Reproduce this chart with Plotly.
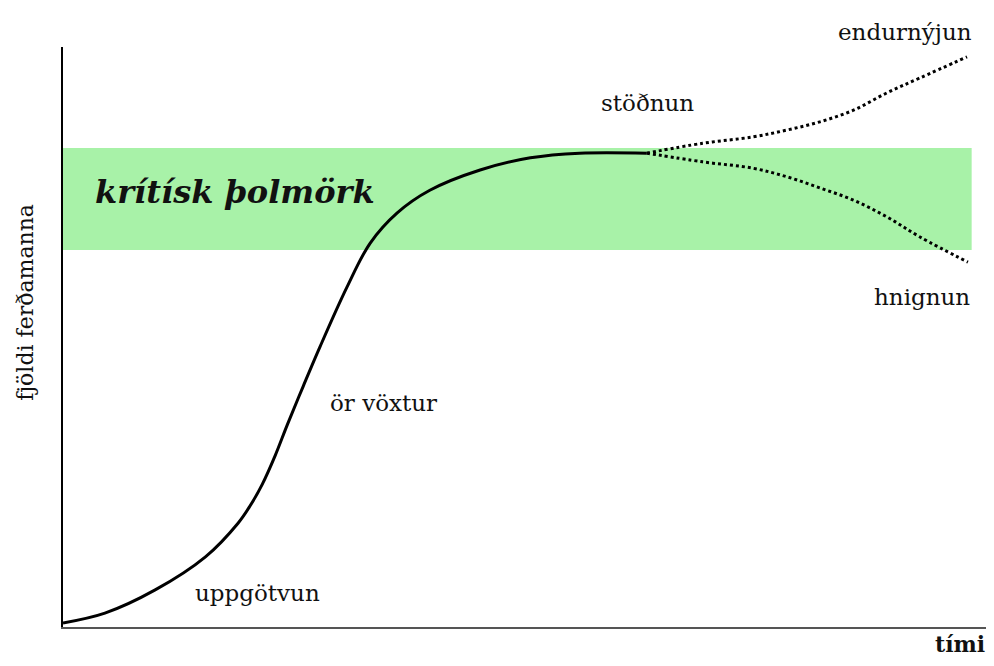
import plotly.graph_objects as go

# main life-cycle curve (time vs number of tourists)
curve_x = [0, 4.5, 9.9, 15.3, 18.8, 20.1, 21.4, 22.8, 24.1, 25.8, 27.6, 30.5, 33.0, 35.9, 39.4, 44.8, 50.2, 55.5, 62.7]
curve_y = [0.7, 2.4, 6.4, 12.1, 17.9, 20.9, 24.6, 29.6, 34.9, 41.5, 48.3, 58.6, 66.2, 71.4, 75.3, 78.8, 80.9, 81.7, 81.7]

# renewal branch (upper dotted)
renew_x = [62.7, 68.7, 74.1, 77.8, 81.3, 84.9, 88.5, 92.1, 97.1]
renew_y = [81.7, 83.4, 84.5, 85.7, 87.1, 89.1, 92.1, 94.7, 98.3]

# decline branch (lower dotted)
decline_x = [62.7, 68.7, 74.1, 77.8, 81.3, 84.9, 88.5, 92.1, 97.2]
decline_y = [81.7, 80.2, 79.1, 77.6, 75.7, 73.6, 70.7, 67.2, 62.9]

# critical capacity band
band_x = [0, 97.6]
band_y = [65.0, 82.6]

# stage labels (inside the plot, data coordinates)
stage_labels = ["uppgötvun", "ör vöxtur", "stöðnun", "hnignun"]
stage_x = [20.9, 34.4, 62.8, 92.3]
stage_y = [5.9, 38.6, 90.3, 56.9]

renew_label = "endurnýjun"
band_label = "krítísk þolmörk"
x_title = "tími"
y_title = "fjöldi ferðamanna"

fig = go.Figure()

fig.add_shape(type="rect", x0=band_x[0], x1=band_x[1], y0=band_y[0], y1=band_y[1],
              fillcolor="#a8f2a8", line=dict(width=0), layer="below")

fig.add_trace(go.Scatter(x=curve_x, y=curve_y, mode="lines",
                         line=dict(color="black", width=3, shape="spline"),
                         hoverinfo="skip", showlegend=False))
fig.add_trace(go.Scatter(x=renew_x, y=renew_y, mode="lines",
                         line=dict(color="black", width=3, dash="dot", shape="spline"),
                         hoverinfo="skip", showlegend=False))
fig.add_trace(go.Scatter(x=decline_x, y=decline_y, mode="lines",
                         line=dict(color="black", width=3, dash="dot", shape="spline"),
                         hoverinfo="skip", showlegend=False))

serif = "DejaVu Serif"
for t, x, y in zip(stage_labels, stage_x, stage_y):
    fig.add_annotation(x=x, y=y, text=t, showarrow=False,
                       font=dict(family=serif, size=23, color="#111"))

fig.add_annotation(xref="paper", yref="paper", x=0.912, y=1.026, text=renew_label,
                   xanchor="center", yanchor="middle",
                   showarrow=False, font=dict(family=serif, size=23, color="#111"))

fig.add_annotation(x=3.2, y=75.0, text="<b><i>" + band_label + "</i></b>", showarrow=False,
                   xanchor="left", font=dict(family=serif, size=32, color="#111"))

fig.add_annotation(xref="paper", yref="paper", x=0.972, y=-0.0534,
                   xanchor="center", yanchor="bottom", borderpad=0,
                   text="<b>" + x_title + "</b>", showarrow=False,
                   font=dict(family=serif, size=22, color="#111"))
fig.add_annotation(xref="paper", yref="paper", x=-0.040, y=0.559, text=y_title,
                   xanchor="center", yanchor="middle",
                   showarrow=False, textangle=-90,
                   font=dict(family=serif, size=22, color="#111"))

fig.update_xaxes(range=[0, 99.14], showgrid=False, zeroline=False, showticklabels=False,
                 ticks="", showline=True, linecolor="#555", linewidth=2, fixedrange=True)
fig.update_yaxes(range=[0, 100], showgrid=False, zeroline=False, showticklabels=False,
                 ticks="", showline=True, linecolor="black", linewidth=2, fixedrange=True)

fig.update_layout(width=978, height=650, plot_bgcolor="white", paper_bgcolor="white",
                  margin=dict(l=55, r=0, t=39, b=31), showlegend=False)

fig.write_html("out.html")
